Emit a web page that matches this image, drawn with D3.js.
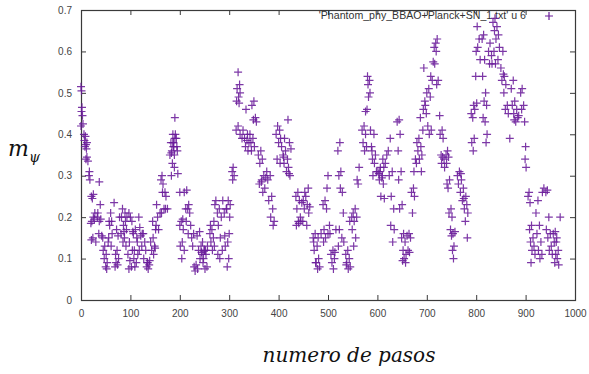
<!DOCTYPE html>
<html>
<head>
<meta charset="utf-8">
<script src="https://cdn.jsdelivr.net/npm/d3@7"></script>
<style>
  html, body { margin: 0; padding: 0; background: #fff; }
  svg { display: block; }
</style>
</head>
<body>
<svg id="chart" width="589" height="374"></svg>
<script>
// ---- data: [step, m_psi], in blocks of 100 steps ----
const block0 = [[0,0.515],[1,0.505],[2,0.465],[1,0.455],[3,0.445],[0,0.42],[4,0.425],
[6,0.40],[9,0.395],[7,0.385],[10,0.375],[8,0.37],[11,0.365],[12,0.38],
[12,0.345],[10,0.34],[14,0.335],[17,0.31],[16,0.30],[18,0.29],
[21,0.25],[25,0.255],[23,0.245],[37,0.285],
[22,0.19],[27,0.195],[20,0.185],[25,0.20],[28,0.21],[24,0.15],[21,0.145],[30,0.14],
[40,0.195],[34,0.21],[37,0.19],[36,0.16],[42,0.155],[39,0.23],[33,0.20],
[48,0.13],[45,0.12],[51,0.11],[47,0.10],[53,0.09],[50,0.08],[52,0.075],[44,0.15],[55,0.14],
[60,0.21],[57,0.19],[62,0.19],[58,0.18],[63,0.16],[56,0.15],[61,0.13],[67,0.235],
[73,0.12],[70,0.11],[76,0.10],[71,0.09],[74,0.085],[69,0.08],[78,0.20],[72,0.17],[75,0.155],
[84,0.22],[89,0.21],[82,0.20],[90,0.19],[86,0.18],[92,0.17],[81,0.16],[88,0.15],[85,0.14],[91,0.13],
[97,0.075],[102,0.08],[99,0.095],[104,0.12],[95,0.11],[100,0.20],[97,0.21],[103,0.19],[98,0.14],[93,0.20],[87,0.165]];

const block1 = [[110,0.17],[106,0.16],[113,0.15],[108,0.12],[115,0.11],[107,0.10],[112,0.09],[109,0.08],[117,0.20],[114,0.14],[119,0.175],[105,0.165],[118,0.12],
[126,0.16],[121,0.155],[129,0.14],[123,0.13],[131,0.12],[127,0.10],[135,0.09],[138,0.085],[133,0.08],[136,0.075],[124,0.16],[139,0.095],[134,0.09],
[146,0.15],[141,0.14],[149,0.13],[143,0.12],[147,0.11],[151,0.17],[145,0.19],[150,0.125],
[155,0.20],[152,0.18],[157,0.17],[153,0.23],[160,0.21],
[164,0.30],[162,0.29],[166,0.28],[170,0.26],[165,0.26],[172,0.25],[175,0.22],[168,0.22],[171,0.22],[163,0.21],
[184,0.36],[180,0.35],[187,0.37],[183,0.30],
[186,0.40],[190,0.39],[182,0.38],[188,0.37],[185,0.33],[189,0.32],
[190,0.44],[193,0.39],[187,0.38],[195,0.36],[189,0.35],[191,0.40],[186,0.38],[196,0.305],[194,0.37],[183,0.355]];

const block2 = [[200,0.26],[209,0.26],[203,0.19],[200,0.18],[207,0.17],[205,0.14],[201,0.13],[209,0.12],[204,0.10],[206,0.195],
[214,0.265],[218,0.23],[212,0.22],[220,0.21],[216,0.22],[213,0.19],[222,0.18],[217,0.16],
[228,0.16],[224,0.15],[226,0.13],[231,0.07],[236,0.075],[229,0.08],[233,0.085],
[240,0.165],[235,0.155],[243,0.13],[238,0.12],[245,0.11],[241,0.10],[247,0.09],
[250,0.12],[244,0.115],[253,0.11],[248,0.10],[255,0.08],[251,0.075],[246,0.14],[256,0.13],[252,0.12],[249,0.118],
[265,0.17],[261,0.16],[268,0.15],[263,0.14],[270,0.13],[266,0.12],[262,0.18],[269,0.19],[273,0.24],[271,0.23],
[280,0.22],[276,0.21],[284,0.20],[278,0.18],[282,0.15],[286,0.12],[277,0.11],[281,0.10],[287,0.24],
[294,0.22],[290,0.21],[297,0.14],[292,0.13],[296,0.08],[299,0.10],[291,0.155],[300,0.16],[298,0.24],[302,0.23],[295,0.22],[301,0.20]];

const block3 = [[308,0.32],[306,0.31],[310,0.30],[307,0.29],
[318,0.55],[321,0.52],[316,0.51],[322,0.50],[319,0.49],[315,0.48],[320,0.475],[318,0.42],[314,0.41],[322,0.40],
[334,0.46],[328,0.41],[337,0.40],[331,0.39],[340,0.38],[333,0.37],[338,0.36],[326,0.39],[336,0.385],
[350,0.48],[346,0.47],[353,0.44],[349,0.435],[355,0.43],[342,0.40],[348,0.39],[344,0.38],[351,0.37],[345,0.36],
[364,0.36],[359,0.35],[367,0.34],[362,0.33],[370,0.30],[366,0.29],[361,0.28],[372,0.27],[368,0.26],[374,0.295],[365,0.285],
[383,0.30],[378,0.29],[386,0.25],[380,0.24],[388,0.22],[384,0.20],[391,0.19],[389,0.18],[376,0.31],
[398,0.42],[402,0.41],[395,0.40],[404,0.39],[400,0.38],[406,0.37],[397,0.34],[403,0.33]];

const block4 = [[414,0.36],[409,0.35],[418,0.34],[411,0.33],[420,0.32],[416,0.31],[423,0.30],[419,0.435],[412,0.39],[422,0.38],[425,0.365],[410,0.345],[421,0.305],
[439,0.26],[435,0.25],[442,0.24],[437,0.22],[444,0.20],[440,0.19],[436,0.18],[445,0.19],[441,0.185],
[455,0.25],[450,0.24],[458,0.23],[452,0.22],[461,0.21],[449,0.19],[457,0.18],[460,0.27],[453,0.26],[463,0.225],[447,0.235],
[474,0.16],[470,0.15],[478,0.13],[472,0.12],[481,0.10],[476,0.09],[483,0.08],[479,0.075],[471,0.14],[486,0.16],[480,0.15],[475,0.09],
[494,0.24],[490,0.23],[497,0.22],[492,0.17],[500,0.16],[495,0.15],[491,0.14],[500,0.30],[498,0.27],[503,0.18]];

const block5 = [[510,0.12],[506,0.11],[513,0.10],[508,0.09],[511,0.075],[504,0.16],[516,0.17],[514,0.115],
[524,0.38],[520,0.36],[526,0.31],[522,0.30],[525,0.27],[529,0.26],[531,0.21],[523,0.17],[528,0.15],[521,0.13],[532,0.14],
[540,0.12],[536,0.11],[543,0.10],[538,0.09],[545,0.08],[541,0.075],[548,0.20],[544,0.19],[537,0.085],
[555,0.22],[551,0.21],[558,0.20],[553,0.19],[549,0.17],[556,0.15],[552,0.13],[561,0.28],[559,0.29],[563,0.32],
[573,0.42],[569,0.41],[576,0.40],[571,0.38],[578,0.37],[574,0.36],[579,0.46],[576,0.455],[582,0.49],[580,0.54],[584,0.53],[581,0.52],[585,0.50],
[593,0.40],[588,0.37],[596,0.35],[590,0.34],[594,0.33],[598,0.31],[591,0.30],[586,0.41],[589,0.36]];

const block6 = [[606,0.32],[601,0.31],[610,0.30],[604,0.29],[612,0.28],[607,0.25],[614,0.245],[616,0.33],[611,0.34],[619,0.35],[603,0.305],[609,0.295],[613,0.32],[605,0.31],
[626,0.39],[622,0.36],[630,0.31],[624,0.30],[628,0.25],[633,0.22],[627,0.18],[634,0.17],[631,0.14],
[644,0.435],[640,0.43],[646,0.40],[642,0.36],[648,0.31],[643,0.29],[650,0.23],[645,0.22],[653,0.16],[649,0.15],[656,0.14],[652,0.12],[658,0.11],[654,0.10],[657,0.09],[651,0.095],
[664,0.16],[660,0.155],[667,0.15],[662,0.12],[665,0.115],[673,0.27],[669,0.26],[675,0.25],[671,0.21],[677,0.34],[674,0.31],
[684,0.39],[680,0.38],[688,0.37],[682,0.36],[690,0.35],[685,0.34],[679,0.33],[687,0.44],[692,0.41],[694,0.56],[697,0.47],[693,0.46],[699,0.45],[696,0.48],[689,0.31]];

const block7 = [[704,0.51],[700,0.50],[707,0.49],[702,0.42],[709,0.41],[705,0.40],[711,0.53],[708,0.54],[716,0.57],[713,0.575],[719,0.60],[715,0.61],
[721,0.63],[718,0.62],[723,0.53],[720,0.52],[726,0.445],[731,0.41],[727,0.40],[733,0.39],[729,0.35],[735,0.34],[730,0.33],[736,0.32],[732,0.345],
[742,0.36],[739,0.35],[744,0.345],[740,0.33],[746,0.29],[741,0.28],[743,0.27],[749,0.22],[745,0.21],[751,0.20],[748,0.17],[753,0.16],[750,0.155],[755,0.13],[752,0.12],[754,0.10],[757,0.165],
[766,0.31],[762,0.30],[770,0.29],[764,0.28],[774,0.27],[768,0.26],[779,0.25],[772,0.24],[781,0.23],[776,0.22],[783,0.21],[778,0.19],[782,0.15],[769,0.305],[775,0.245],
[794,0.36],[791,0.38],[796,0.39],[793,0.44],[790,0.45],[797,0.46],[795,0.47],[799,0.54]];

const block8 = [[803,0.61],[800,0.60],[806,0.63],[802,0.66],[808,0.58],[801,0.475],
[815,0.64],[812,0.63],[817,0.58],[813,0.54],[819,0.50],[816,0.48],[821,0.47],[814,0.44],[818,0.43],[822,0.40],[820,0.38],[828,0.62],[825,0.60],[831,0.59],[827,0.57],
[838,0.68],[834,0.67],[842,0.66],[837,0.65],[845,0.64],[840,0.63],[847,0.61],[836,0.60],[844,0.58],[839,0.57],[832,0.57],
[854,0.60],[850,0.56],[857,0.54],[852,0.53],[860,0.52],[856,0.50],[863,0.47],[859,0.46],[865,0.45],[868,0.39],[855,0.545],
[875,0.53],[871,0.51],[878,0.48],[873,0.47],[882,0.46],[876,0.45],[884,0.44],[880,0.43],[886,0.445],[877,0.435],
[893,0.51],[890,0.50],[896,0.47],[892,0.46],[898,0.43],[900,0.37],[899,0.34],[901,0.32]];

const block9 = [[907,0.26],[905,0.25],[909,0.235],[912,0.18],[908,0.17],[915,0.15],[910,0.14],[917,0.13],[913,0.12],[919,0.11],[911,0.09],
[925,0.24],[921,0.21],[928,0.18],[923,0.16],[931,0.14],[926,0.12],[933,0.11],[929,0.10],[937,0.27],[934,0.26],
[944,0.265],[941,0.26],[947,0.20],[942,0.17],[950,0.16],[945,0.15],[952,0.13],[948,0.12],[954,0.11],
[960,0.165],[956,0.16],[963,0.15],[958,0.14],[966,0.12],[961,0.11],[964,0.10],[959,0.09],[967,0.085],[970,0.20],[962,0.14]];

const xTicks = [0, 100, 200, 300, 400, 500, 600, 700, 800, 900, 1000];
const yTicks = [0, 0.1, 0.2, 0.3, 0.4, 0.5, 0.6, 0.7];
const legendLabel = "'Phantom_phy_BBAO+Planck+SN_1.txt' u 6";
const xLabel = "numero de pasos";

// ---- drawing ----
const points = [].concat(block0, block1, block2, block3, block4, block5, block6, block7, block8, block9);
const svg = d3.select("#chart");
const L = 81, R = 575, T = 10, B = 300;
const x = d3.scaleLinear().domain([0, 1000]).range([L, R]);
const y = d3.scaleLinear().domain([0, 0.7]).range([B, T]);
const frame = "#3a3a3a";
const tickFont = "'Liberation Sans', Arial, sans-serif";

// axes (ticks inward, mirrored)
const gx = svg.append("g").attr("transform", `translate(0,${B})`)
  .call(d3.axisBottom(x).tickValues(xTicks).tickFormat(d3.format("d")).tickSizeInner(-5).tickSizeOuter(0).tickPadding(10));
const gx2 = svg.append("g").attr("transform", `translate(0,${T})`)
  .call(d3.axisTop(x).tickValues(xTicks).tickFormat("").tickSizeInner(-5).tickSizeOuter(0));
const gy = svg.append("g").attr("transform", `translate(${L},0)`)
  .call(d3.axisLeft(y).tickValues(yTicks).tickFormat(d => d === 0 ? "0" : d3.format(".1f")(d)).tickSizeInner(-5).tickSizeOuter(0).tickPadding(9));
const gy2 = svg.append("g").attr("transform", `translate(${R},0)`)
  .call(d3.axisRight(y).tickValues(yTicks).tickFormat("").tickSizeInner(-5).tickSizeOuter(0));
[gx, gx2, gy, gy2].forEach(g => {
  g.select(".domain").remove();
  g.selectAll(".tick line").attr("stroke", frame).attr("stroke-width", 1);
  g.selectAll(".tick text").attr("fill", "#444").style("font-family", tickFont).style("font-size", "10px");
});

svg.append("rect").attr("x", L + 0.5).attr("y", T + 0.5).attr("width", R - L).attr("height", B - T)
  .attr("fill", "none").attr("stroke", frame).attr("stroke-width", 1.2);

// legend
svg.append("text").attr("x", 526).attr("y", 19).attr("text-anchor", "end")
  .style("font-family", tickFont).style("font-size", "10.6px").attr("fill", "#333")
  .text(legendLabel);

const plus = "M-4,0H4M0,-4V4";
const col = "#6a1b9a";
svg.append("path").attr("d", plus).attr("transform", "translate(549,16)")
  .attr("stroke", col).attr("stroke-width", 1.2).attr("fill", "none");

// points
svg.append("g").selectAll("path").data(points).join("path")
  .attr("d", plus)
  .attr("transform", d => `translate(${x(d[0])},${y(d[1])})`)
  .attr("stroke", col).attr("stroke-opacity", 0.88).attr("stroke-width", 1.2).attr("fill", "none");

// axis titles
const serif = "'DejaVu Serif', 'Liberation Serif', serif";
const yl = svg.append("text").attr("x", 8).attr("y", 156)
  .style("font-family", serif).style("font-style", "italic").style("font-size", "22px").attr("fill", "#111");
yl.append("tspan").text("m");
yl.append("tspan").attr("dy", 6).style("font-size", "14px").text("ψ");

svg.append("text").attr("x", 349).attr("y", 362).attr("text-anchor", "middle")
  .style("font-family", serif).style("font-style", "italic").style("font-size", "20px").attr("fill", "#111")
  .text(xLabel);
</script>
</body>
</html>
